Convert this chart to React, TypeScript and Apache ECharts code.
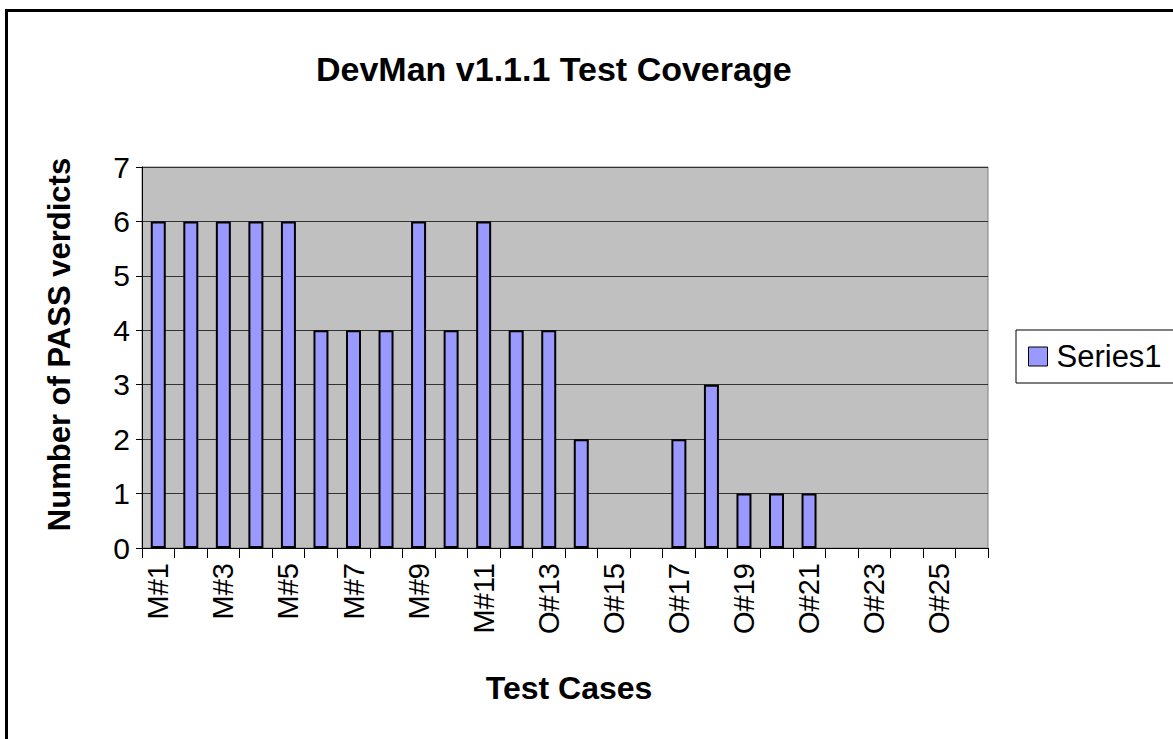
import React, { useEffect, useRef } from "react";
import * as echarts from "echarts";

const categories = [
  "M#1", "M#2", "M#3", "M#4", "M#5", "M#6", "M#7", "M#8", "M#9", "M#10", "M#11", "M#12",
  "O#13", "O#14", "O#15", "O#16", "O#17", "O#18", "O#19", "O#20", "O#21", "O#22", "O#23", "O#24", "O#25", "O#26",
];
const series1 = [6, 6, 6, 6, 6, 4, 4, 4, 6, 4, 6, 4, 4, 2, 0, 0, 2, 3, 1, 1, 1, 0, 0, 0, 0, 0];
const titleText = "DevMan v1.1.1 Test Coverage";
const xName = "Test Cases";
const yName = "Number of PASS verdicts";
const seriesName = "Series1";

const FONT = "'Liberation Sans', Arial, sans-serif";

export default function App() {
  const ref = useRef<HTMLDivElement>(null);
  useEffect(() => {
    if (!ref.current) return;
    const chart = echarts.init(ref.current, null, { renderer: "svg" });
    const barData = series1.map((v) =>
      v === 0 ? { value: v, itemStyle: { borderWidth: 0 } } : v
    );
    chart.setOption({
      animation: false,
      backgroundColor: "#ffffff",
      textStyle: { fontFamily: FONT, color: "#000" },
      title: {
        text: titleText,
        left: 311,
        top: 47,
        textStyle: { fontFamily: FONT, fontSize: 34, fontWeight: "bold", color: "#000" },
      },
      graphic: [
        {
          type: "rect",
          shape: { x: 6.5, y: 10.5, width: 1300, height: 900 },
          style: { fill: "none", stroke: "#000", lineWidth: 3 },
          silent: true,
          z: 100,
        },
      ],
      legend: {
        left: 1016,
        top: 330,
        orient: "vertical",
        padding: [11, 14, 11, 12],
        borderColor: "#000",
        borderWidth: 1,
        itemWidth: 19,
        itemHeight: 19,
        itemGap: 10,
        icon: "rect",
        itemStyle: { color: "#9999FF", borderColor: "#000", borderWidth: 1 },
        textStyle: { fontFamily: FONT, fontSize: 31, color: "#000", padding: [0, 0, 0, 4] },
        data: [seriesName],
      },
      grid: {
        left: 142,
        top: 167,
        right: 185,
        bottom: 191,
        show: true,
        backgroundColor: "#C0C0C0",
        borderColor: "#808080",
        borderWidth: 1,
        containLabel: false,
        outerBoundsMode: "none",
      },
      xAxis: {
        type: "category",
        data: categories,
        boundaryGap: true,
        name: xName,
        nameLocation: "middle",
        nameGap: 124,
        nameTextStyle: { fontFamily: FONT, fontSize: 32, fontWeight: "bold", color: "#000", padding: [0, 0, 0, 8] },
        axisLine: { lineStyle: { color: "#000", width: 1 } },
        axisTick: { show: true, alignWithLabel: false, length: 10, interval: 0, lineStyle: { color: "#000" } },
        axisLabel: {
          interval: 1,
          rotate: 90,
          margin: 15,
          fontFamily: FONT,
          fontSize: 29,
          color: "#000",
        },
        splitLine: { show: false },
      },
      yAxis: {
        type: "value",
        min: 0,
        max: 7,
        interval: 1,
        name: yName,
        nameLocation: "middle",
        nameGap: 67,
        nameRotate: 90,
        nameTextStyle: { fontFamily: FONT, fontSize: 31, fontWeight: "bold", color: "#000", padding: [0, 0, 0, 26] },
        axisLine: { show: true, lineStyle: { color: "#000", width: 1 } },
        axisTick: { show: true, length: 6, lineStyle: { color: "#000" } },
        axisLabel: { margin: 12, fontFamily: FONT, fontSize: 30, color: "#000" },
        splitLine: { show: true, lineStyle: { color: "#333", width: 1 } },
      },
      series: [
        {
          name: seriesName,
          type: "bar",
          data: barData,
          barWidth: 15,
          itemStyle: { color: "#9999FF", borderColor: "#000", borderWidth: 2 },
        },
      ],
    });
    return () => chart.dispose();
  }, []);
  return (
    <div
      ref={ref}
      style={{ position: "fixed", left: 0, top: 0, width: 1173, height: 739 }}
    />
  );
}
